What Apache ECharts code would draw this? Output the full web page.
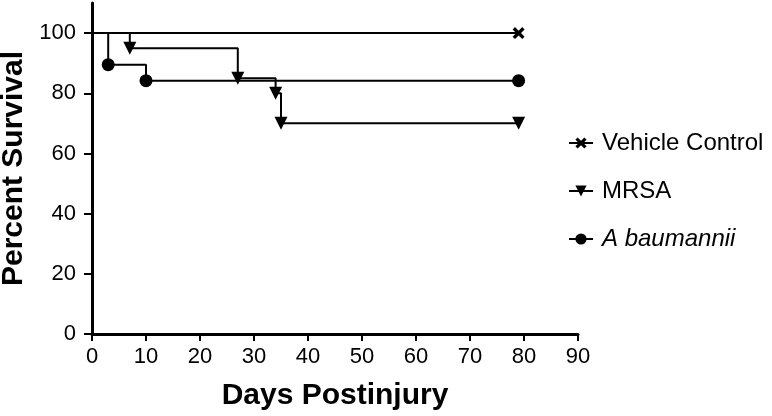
<!DOCTYPE html>
<html>
<head>
<meta charset="utf-8">
<script src="https://cdn.jsdelivr.net/npm/echarts@6/dist/echarts.min.js"></script>
<style>
html, body { margin: 0; padding: 0; background: #fff; }
#chart { width: 772px; height: 416px; }
</style>
</head>
<body>
<div id="chart"></div>
<script>
// Kaplan-Meier steps: [day, percent]
const vehicleDays = [0, 79];
const vehicleSurvival = [100, 100];
const mrsaDays = [0, 7, 27, 34, 35, 79];
const mrsaSurvival = [100, 95, 85, 80, 70, 70];
const baumDays = [0, 3, 10, 79];
const baumSurvival = [100, 89.5, 84.2, 84.2];
const xTicks = [0, 10, 20, 30, 40, 50, 60, 70, 80, 90];
const yTicks = [0, 20, 40, 60, 80, 100];

const crossPath = 'path://M0,2L2,0L5,3L8,0L10,2L7,5L10,8L8,10L5,7L2,10L0,8L3,5Z';
const downTri = 'path://M0,0L10,0L5,10Z';

function steps(days, vals) {
  // no marker on the start point
  return days.map(function (d, i) {
    if (i == 0) return { value: [d, vals[i]], symbol: 'none' };
    return [d, vals[i]];
  });
}

const chart = echarts.init(document.getElementById('chart'));
const font = 'Liberation Sans, Arial, sans-serif';

chart.setOption({
  backgroundColor: '#fff',
  animation: false,
  grid: { left: 92, right: 194, top: 3, bottom: 82, containLabel: false, outerBoundsMode: 'none' },
  legend: {
    orient: 'vertical',
    left: 563,
    top: 126,
    itemWidth: 24,
    itemHeight: 14,
    itemGap: 24,
    textStyle: { fontFamily: font, fontSize: 24, color: '#000', padding: [0, 0, 0, 4] },
    data: [
      { name: 'Vehicle Control' },
      { name: 'MRSA' },
      { name: 'A baumannii', textStyle: { fontStyle: 'italic' } }
    ]
  },
  xAxis: {
    type: 'value',
    min: 0,
    max: 90,
    interval: 10,
    name: 'Days Postinjury',
    nameLocation: 'middle',
    nameGap: 47,
    nameTextStyle: { fontFamily: font, fontSize: 30, fontWeight: 'bold', color: '#000' },
    axisLine: { show: true, onZero: false, lineStyle: { color: '#000', width: 3 } },
    axisTick: { show: true, length: 7, customValues: xTicks, lineStyle: { color: '#000', width: 2 } },
    axisLabel: { fontFamily: font, fontSize: 22, color: '#000', margin: 12, customValues: xTicks },
    splitLine: { show: false }
  },
  yAxis: {
    type: 'value',
    min: 0,
    max: 110,
    name: 'Percent Survival',
    nameLocation: 'middle',
    nameGap: 62,
    nameTextStyle: { fontFamily: font, fontSize: 30, fontWeight: 'bold', color: '#000' },
    axisLine: { show: true, lineStyle: { color: '#000', width: 3 } },
    axisTick: { show: true, length: 8, customValues: yTicks, lineStyle: { color: '#000', width: 2 } },
    axisLabel: { fontFamily: font, fontSize: 22, color: '#000', margin: 16, customValues: yTicks },
    splitLine: { show: false }
  },
  series: [
    {
      name: 'Vehicle Control',
      type: 'line',
      step: 'end',
      symbol: crossPath,
      symbolSize: 12,
      color: '#000',
      lineStyle: { color: '#000', width: 2 },
      itemStyle: { color: '#000' },
      data: steps(vehicleDays, vehicleSurvival)
    },
    {
      name: 'MRSA',
      type: 'line',
      step: 'end',
      symbol: downTri,
      symbolSize: [13, 13],
      color: '#000',
      lineStyle: { color: '#000', width: 2 },
      itemStyle: { color: '#000' },
      data: steps(mrsaDays, mrsaSurvival)
    },
    {
      name: 'A baumannii',
      type: 'line',
      step: 'end',
      symbol: 'circle',
      symbolSize: 13,
      color: '#000',
      lineStyle: { color: '#000', width: 2 },
      itemStyle: { color: '#000' },
      data: steps(baumDays, baumSurvival)
    }
  ]
});
</script>
</body>
</html>
